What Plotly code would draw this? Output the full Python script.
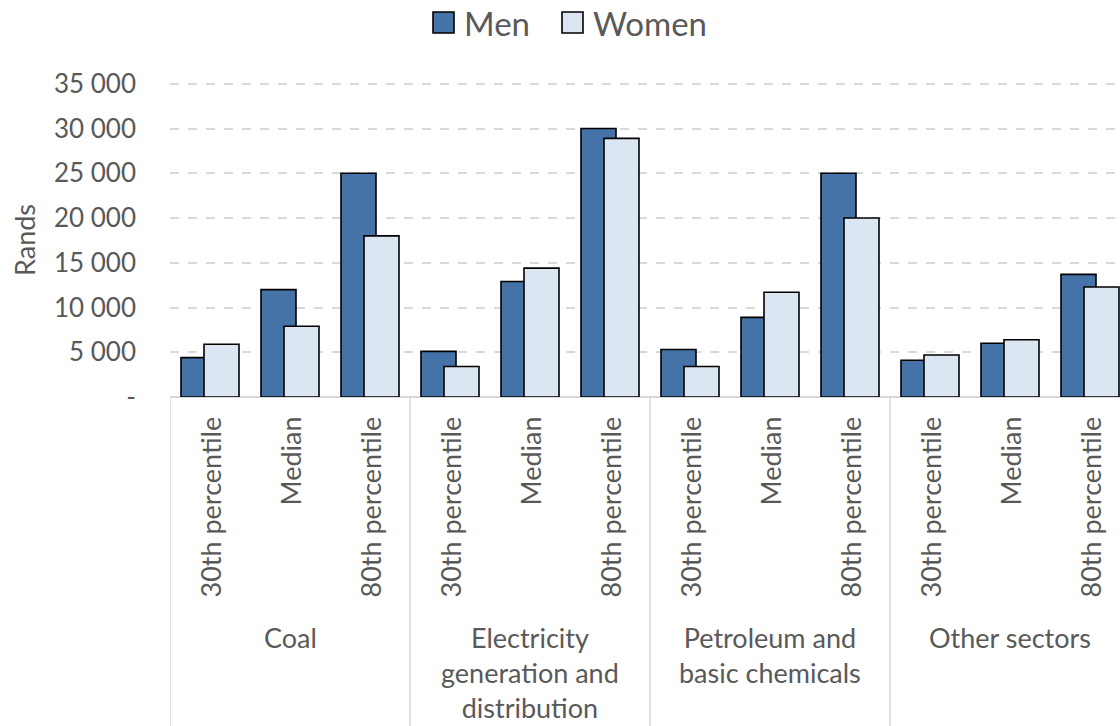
import plotly.graph_objects as go

# Monthly earnings by sector, sex and point in the distribution
sectors = ["Coal", "Electricity<br>generation and<br>distribution",
           "Petroleum and<br>basic chemicals", "Other sectors"]
measures = ["30th percentile", "Median", "80th percentile"]

men = [4400, 12000, 25000,
       5100, 12900, 30000,
       5300, 8900, 25000,
       4100, 6000, 13700]
women = [5900, 7900, 18000,
         3400, 14400, 28900,
         3400, 11700, 20000,
         4700, 6400, 12300]

y_ticks = [0, 5000, 10000, 15000, 20000, 25000, 30000, 35000]
y_tick_text = ["-", "5 000", "10 000", "15 000", "20 000", "25 000", "30 000", "35 000"]

MEN_COLOR = "#4572A7"
WOMEN_COLOR = "#DCE6F2"
TEXT = "#595959"
LINE = "#D9D9D9"
FONT = "Lato"

W, H = 1120, 726
L, R, T, B = 170, 0, 82, 329
Y_TOP = 35200

x = list(range(len(men)))
bar_w = 0.4375


def px_x(p):
    return (p - L) / (W - L - R)


def px_y(p):
    return (H - B - p) / (H - T - B)


fig = go.Figure()
fig.add_trace(go.Bar(
    x=x, y=men, name="Men", width=bar_w, offset=-0.3625,
    marker=dict(color=MEN_COLOR, line=dict(color="#000000", width=1.6)),
    showlegend=False,
))
fig.add_trace(go.Bar(
    x=x, y=women, name="Women", width=bar_w, offset=-0.075,
    marker=dict(color=WOMEN_COLOR, line=dict(color="#000000", width=1.6)),
    showlegend=False,
))

annotations = []
shapes = []

# inner category labels (rotated)
for i in x:
    annotations.append(dict(
        x=i, xref="x", y=px_y(415), yref="paper",
        text=measures[i % 3], textangle=-90, showarrow=False,
        xanchor="center", yanchor="top",
        font=dict(family=FONT, size=27, color=TEXT),
    ))

# sector labels
for g, name in enumerate(sectors):
    annotations.append(dict(
        x=g * 3 + 1, xref="x", y=px_y(619), yref="paper",
        text=name, showarrow=False, xanchor="center", yanchor="top",
        align="center",
        font=dict(family=FONT, size=27, color=TEXT),
    ))

# group dividers
for g in range(len(sectors) + 1):
    shapes.append(dict(
        type="line", xref="x", yref="paper",
        x0=g * 3 - 0.5, x1=g * 3 - 0.5, y0=0, y1=px_y(H),
        line=dict(color=LINE, width=1.5),
    ))

# y-axis title
annotations.append(dict(
    x=px_x(24), xref="paper", y=px_y(240), yref="paper",
    text="Rands", textangle=-90, showarrow=False,
    xanchor="center", yanchor="middle",
    font=dict(family=FONT, size=27, color=TEXT),
))

# legend
for label, color, bx in [("Men", MEN_COLOR, 433), ("Women", WOMEN_COLOR, 562)]:
    shapes.append(dict(
        type="rect", xref="paper", yref="paper",
        x0=px_x(bx), x1=px_x(bx + 21), y0=px_y(33), y1=px_y(12),
        fillcolor=color, line=dict(color="#000000", width=1.6),
    ))
    annotations.append(dict(
        x=px_x(bx + 29), xref="paper", y=px_y(23), yref="paper",
        text=label, showarrow=False, xanchor="left", yanchor="middle",
        font=dict(family=FONT, size=33, color=TEXT),
    ))

fig.update_layout(
    width=W, height=H,
    margin=dict(l=L, r=R, t=T, b=B, autoexpand=False),
    paper_bgcolor="white", plot_bgcolor="white",
    barmode="overlay",
    font=dict(family=FONT, color=TEXT),
    annotations=annotations,
    shapes=shapes,
    xaxis=dict(
        range=[-0.5, 11.375], showticklabels=False, showgrid=False,
        zeroline=False, showline=False, ticks="",
    ),
    yaxis=dict(
        range=[0, Y_TOP], tickvals=y_ticks, ticktext=y_tick_text,
        showgrid=True, gridcolor=LINE, griddash="dash", gridwidth=1.5,
        zeroline=True, zerolinecolor=LINE, zerolinewidth=1.5,
        showline=False, ticks="", ticklabelstandoff=33,
        tickfont=dict(family=FONT, size=26, color=TEXT),
    ),
)

fig.write_html("out.html")
